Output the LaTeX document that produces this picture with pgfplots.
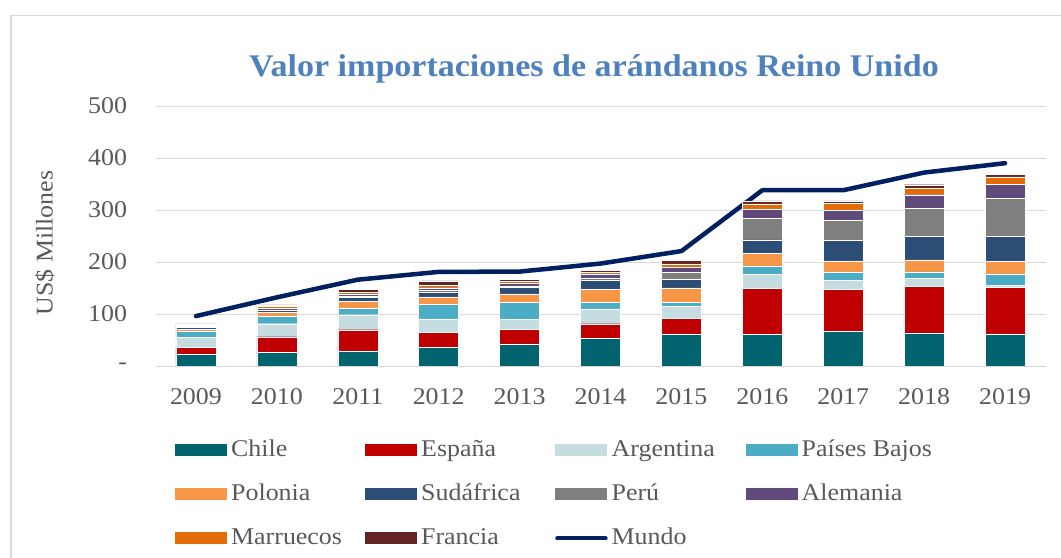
\documentclass[border=0pt]{standalone}
\usepackage{fontspec}
\setmainfont{Liberation Serif}[FakeStretch=1.08]
\usepackage{pgfplots}
\usepackage{pgfplotstable}
\pgfplotsset{compat=1.18}

\definecolor{txt}{HTML}{595959}
\definecolor{ttl}{HTML}{4F81BD}
\definecolor{cChile}{HTML}{00636E}
\definecolor{cEsp}{HTML}{C00000}
\definecolor{cArg}{HTML}{C5DCE0}
\definecolor{cPB}{HTML}{4BACC6}
\definecolor{cPol}{HTML}{F79646}
\definecolor{cSud}{HTML}{2C4D75}
\definecolor{cPer}{HTML}{7F7F7F}
\definecolor{cAle}{HTML}{604A7B}
\definecolor{cMar}{HTML}{E36C09}
\definecolor{cFra}{HTML}{632523}
\definecolor{cMun}{HTML}{002060}

% US$ millones por origen
\pgfplotstableread{
x chile esp arg pb pol sud per ale mar fra mundo
0 22.0 14.5 18.0 12.5 4.0 4.0 1.0 2.0 1.5 1.5 96
1 25.6 30.7 25.0 14.0 7.9 3.2 1.3 2.7 3.9 3.3 132
2 28.8 41.0 28.8 12.0 14.4 7.2 2.6 4.0 3.2 5.2 166
3 36.0 28.5 26.0 28.0 14.2 9.8 2.6 5.4 5.2 7.8 181
4 42.6 27.7 19.4 32.9 16.1 12.9 2.6 4.5 4.5 3.2 181.5
5 52.9 28.4 28.4 12.9 25.1 18.1 3.2 7.0 4.0 4.5 197
6 61.9 29.7 22.6 8.4 27.7 16.7 12.9 10.3 6.4 7.1 221
7 60.5 89.2 26.0 16.9 24.1 26.0 41.0 18.2 9.8 5.9 338
8 66.4 80.7 17.6 15.6 22.1 39.0 39.7 18.9 13.0 4.6 338
9 62.5 91.1 14.3 13.0 23.4 44.9 53.7 26.5 12.8 6.4 372
10 61.8 89.9 3.3 22.1 24.7 48.2 72.0 28.0 13.5 4.5 390
}\data

\newcommand\lgd[1]{\makebox[138bp][l]{\hspace{4bp}#1}}

\begin{document}
\begin{tikzpicture}
\useasboundingbox (0bp,0bp) rectangle (1061bp,558bp);
\draw[gray!30, line width=1.2bp] (11bp,-5bp) -- (11bp,542.5bp) -- (1070bp,542.5bp);
\node[text=ttl, font=\fontsize{31.5bp}{36bp}\selectfont\bfseries] at (594bp,489bp)
  {Valor importaciones de arándanos Reino Unido};
\begin{axis}[
  at={(155.5bp,192bp)}, anchor=south west,
  scale only axis, width=890bp, height=260bp,
  ybar stacked, bar width=40bp,
  xmin=-0.5, xmax=10.5, ymin=0, ymax=500,
  xtick={0,...,10},
  xticklabels={2009,2010,2011,2012,2013,2014,2015,2016,2017,2018,2019},
  ytick={0,100,...,500},
  yticklabels={-,100,200,300,400,500},
  axis line style={draw=none}, major tick length=0pt,
  ymajorgrids, grid style={color=gray!30, line width=1bp},
  tick label style={font=\fontsize{24bp}{28bp}\selectfont, text=txt},
  yticklabel style={xshift=-25bp},
  xticklabel style={yshift=-19bp},
  ylabel={US\$ Millones},
  ylabel style={at={(axis description cs:-0.1242,0.473)}, anchor=center,
    font=\fontsize{24bp}{28bp}\selectfont, text=txt},
  legend columns=4, legend cell align=left,
  legend style={draw=none, fill=none, at={(axis description cs:0.01854,-0.273)},
    anchor=north west, column sep=0pt, row sep=22bp,
    nodes={inner sep=0pt, text height=17bp, text depth=5bp,
      font=\fontsize{24bp}{28bp}\selectfont, text=txt}},
  legend image code/.code={\fill[#1, draw=none] (0bp,-6bp) rectangle (52bp,6bp);},
  every axis plot/.append style={draw=white, line width=0.4bp},
]
\addplot[fill=cChile] table[x=x, y=chile] {\data}; \addlegendentry{\lgd{Chile}}
\addplot[fill=cEsp] table[x=x, y=esp] {\data}; \addlegendentry{\lgd{España}}
\addplot[fill=cArg] table[x=x, y=arg] {\data}; \addlegendentry{\lgd{Argentina}}
\addplot[fill=cPB] table[x=x, y=pb] {\data}; \addlegendentry{\lgd{Países Bajos}}
\addplot[fill=cPol] table[x=x, y=pol] {\data}; \addlegendentry{\lgd{Polonia}}
\addplot[fill=cSud] table[x=x, y=sud] {\data}; \addlegendentry{\lgd{Sudáfrica}}
\addplot[fill=cPer] table[x=x, y=per] {\data}; \addlegendentry{\lgd{Perú}}
\addplot[fill=cAle] table[x=x, y=ale] {\data}; \addlegendentry{\lgd{Alemania}}
\addplot[fill=cMar] table[x=x, y=mar] {\data}; \addlegendentry{\lgd{Marruecos}}
\addplot[fill=cFra] table[x=x, y=fra] {\data}; \addlegendentry{\lgd{Francia}}
\addplot[stack plots=false, sharp plot, draw=cMun, fill=none, line width=4.5bp,
  line cap=round, line join=round, no marks,
  legend image code/.code={\draw[cMun, line width=4.5bp, line cap=round] (2bp,0bp) -- (50bp,0bp);}]
  table[x=x, y=mundo] {\data}; \addlegendentry{\lgd{Mundo}}
\end{axis}
\end{tikzpicture}
\end{document}
